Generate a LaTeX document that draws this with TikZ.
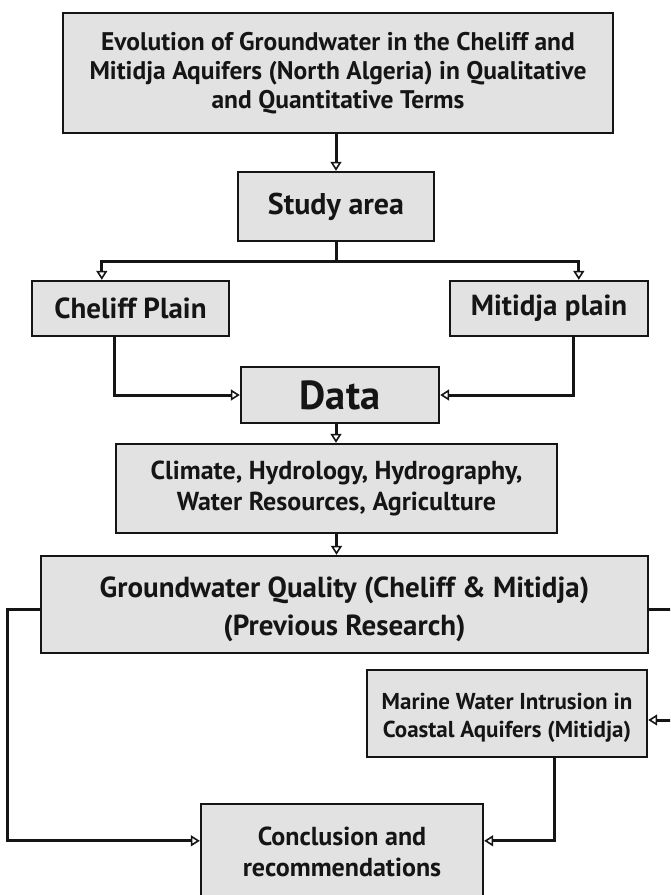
\documentclass[tikz,border=0pt]{standalone}
\usepackage{fontspec}
\setmainfont{PT Sans}
\usetikzlibrary{arrows.meta,calc}
\definecolor{boxgray}{HTML}{E2E2E2}
\definecolor{ink}{HTML}{151515}
\begin{document}
\begin{tikzpicture}[x=1pt,y=-1pt,
  box/.style={draw=ink,fill=boxgray,line width=2.4pt,inner sep=0pt,align=center,text=ink},
  lbl/.style={inner sep=0pt,align=center,text=ink},
  conn/.style={draw=ink,line width=3pt,-{Triangle[length=9pt,width=11pt,fill=white,line width=1.6pt]}},
  plain/.style={draw=ink,line width=3pt}]
\useasboundingbox (0,0) rectangle (670,895);
\clip (0,0) rectangle (670,895);
\fill[white] (0,0) rectangle (670,895);

\node[box,minimum width=550pt,minimum height=120pt,font=\fontsize{25.5}{29}\selectfont\bfseries] (top) at (338,73)
  {Evolution of Groundwater in the Cheliff and\\Mitidja Aquifers (North Algeria) in Qualitative\\and Quantitative Terms};
\node[box,minimum width=196pt,minimum height=69pt,font=\fontsize{30}{32}\selectfont\bfseries] (study) at (336,206.5) {Study area};
\node[box,minimum width=197pt,minimum height=55pt,font=\fontsize{29}{30}\selectfont\bfseries] (cheliff) at (130.5,308.5) {Cheliff Plain};
\node[box,minimum width=198pt,minimum height=55pt,font=\fontsize{29}{30}\selectfont\bfseries] (mitidja) at (549,308.5) {Mitidja plain};
\node[box,minimum width=198pt,minimum height=56pt,font=\fontsize{40.5}{42}\selectfont\bfseries] (data) at (340,395) {Data};
\node[box,minimum width=441pt,minimum height=89pt,font=\fontsize{26}{31}\selectfont\bfseries] (climate) at (336.5,488.5)
  {Climate, Hydrology, Hydrography,\\Water Resources, Agriculture};
\node[box,minimum width=607pt,minimum height=97pt] (gw) at (344.5,604.5) {};
\node[lbl,font=\fontsize{29}{38}\selectfont\bfseries] (gwtext) at ($(gw.center)+(0,5)$)
  {Groundwater Quality (Cheliff \& Mitidja)\\(Previous Research)};
\node[box,minimum width=280pt,minimum height=87pt] (marine) at (507,713.5) {};
\node[lbl,font=\fontsize{23}{28}\selectfont\bfseries] (marinetext) at ($(marine.center)+(0,4)$)
  {Marine Water Intrusion in\\Coastal Aquifers (Mitidja)};
\node[box,minimum width=282pt,minimum height=96pt,font=\fontsize{26}{31}\selectfont\bfseries] (concl) at (342,852)
  {Conclusion and\\recommendations};

\draw[conn] (study.north |- top.south) -- (study.north);
\draw[plain] (study.south) -- ++(0,19);
\draw[conn] ($(study.south)+(0,19)$) -| ($(cheliff.north west)+(71,0)$);
\draw[conn] ($(study.south)+(0,19)$) -| ($(mitidja.north west)+(130,0)$);
\draw[conn] ($(cheliff.south west)+(84,0)$) |- (data.west);
\draw[conn] ($(mitidja.south west)+(125,0)$) |- (data.east);
\draw[conn] ($(data.south)+(-4,0)$) -- ($(data.south |- climate.north)+(-4,0)$);
\draw[conn] (climate.south) -- (climate.south |- gw.north);
\draw[conn] ($(gw.west)+(0,4.5)$) -- ++(-32,0) |- ($(concl.north west)+(0,38)$);
\draw[conn] ($(gw.east)+(0,4.5)$) -- (690,609) |- ($(marine.east)+(0,6.5)$);
\draw[conn] ($(marine.south west)+(189,0)$) |- ($(concl.north east)+(0,38)$);
\end{tikzpicture}
\end{document}
